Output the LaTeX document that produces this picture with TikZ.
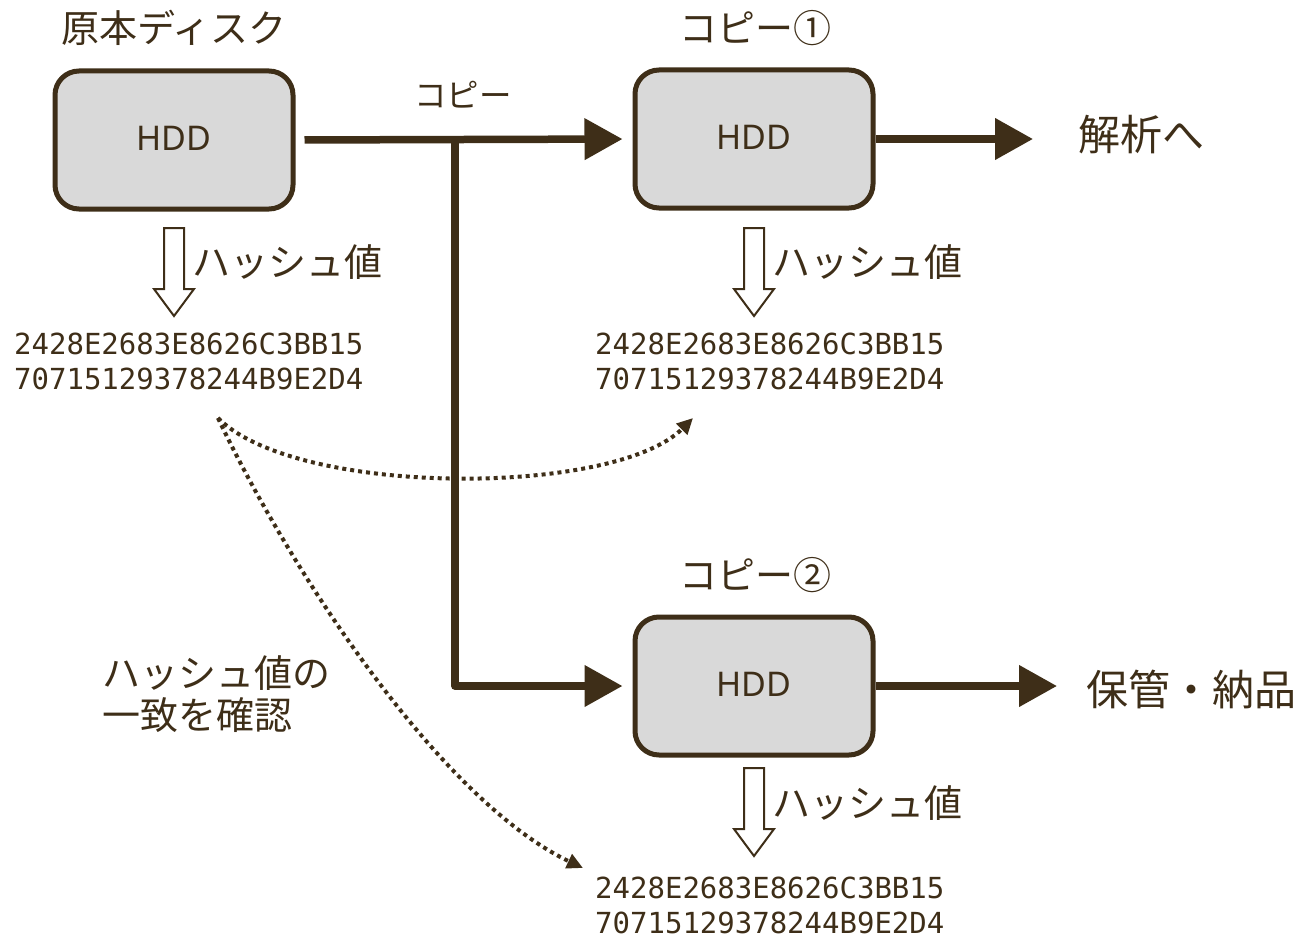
\documentclass[tikz,border=0pt]{standalone}
\usepackage{fontspec}
\setmainfont{Noto Sans CJK JP}
\newfontfamily\hashfont{DejaVu Sans Mono}
\newfontfamily\diskfont{Noto Sans}
\usetikzlibrary{arrows.meta}
\definecolor{ink}{RGB}{62,46,24}
\definecolor{boxfill}{RGB}{217,217,217}

\begin{document}
\begin{tikzpicture}[x=1pt,y=-1pt,
  hdd/.style={draw=ink, line width=5pt, fill=boxfill, rounded corners=24pt,
    minimum width=238pt, minimum height=138pt, text=ink, inner sep=0pt,
    font=\diskfont\fontsize{34}{40}\selectfont},
  jptext/.style={text=ink, inner sep=0pt, font=\fontsize{38}{42}\selectfont},
  bigtext/.style={text=ink, inner sep=0pt, anchor=west, font=\fontsize{42}{46}\selectfont},
  hash/.style={text=ink, inner sep=0pt, align=left, anchor=west,
    font=\hashfont\fontsize{29}{35}\selectfont},
  flow/.style={draw=ink, line width=7.5pt, line join=round,
    -{Triangle[length=38pt,width=40pt]}},
  check/.style={draw=ink, line width=4pt, dash pattern=on 4pt off 4pt,
    -{Triangle[length=16pt,width=15pt]}},
  hashdown/.pic={\draw[ink, line width=2pt, fill=white, line join=miter]
    (-10,0) -- (10,0) -- (10,61) -- (20,61) -- (0,88) -- (-20,61) -- (-10,61) -- cycle;}
]
\useasboundingbox (0,0) rectangle (1305,939);

% disks
\node[hdd] (b0) at (174,140) {\raisebox{4pt}{HDD}};
\node[hdd] (b1) at (754,139) {\raisebox{4pt}{HDD}};
\node[hdd] (b2) at (754,686) {\raisebox{4pt}{HDD}};

% titles
\node[jptext] (t0) at (174,28) {原本ディスク};
\node[jptext] (t1) at (755,28) {コピー①};
\node[jptext] (t2) at (755,575) {コピー②};
\node[jptext, font=\fontsize{32.5}{36}\selectfont] (tc) at (463,95) {コピー};

% destinations
\node[bigtext] (dest1) at (1078,135) {解析へ};
\node[bigtext] (dest2) at (1086,689) {保管・納品};

% hash values
\pic at (174,228) {hashdown};
\pic at (754,228) {hashdown};
\pic at (754,768) {hashdown};
\node[jptext, anchor=west] (hl0) at (192,262) {ハッシュ値};
\node[jptext, anchor=west] (hl1) at (772,262) {ハッシュ値};
\node[jptext, anchor=west] (hl2) at (772,803) {ハッシュ値};

\node[hash] (h0) at (14,361) {2428E2683E8626C3BB15\\70715129378244B9E2D4};
\node[hash] (h1) at (595,361) {2428E2683E8626C3BB15\\70715129378244B9E2D4};
\node[hash] (h2) at (595,905) {2428E2683E8626C3BB15\\70715129378244B9E2D4};

\node[jptext, align=left, anchor=north west]
  (note) at (102,655) {ハッシュ値の\\一致を確認};

% copy flow
\coordinate (split) at (455,140);
\draw[flow, shorten <=9pt, shorten >=10pt] (b0.east) -- (b1.west);
\draw[flow, shorten >=10pt] (split) |- (b2.west);
\draw[flow, shorten >=45pt] (b1.east) -- (b1.east -| dest1.west);
\draw[flow, shorten >=29pt] (b2.east) -- (b2.east -| dest2.west);

% hash comparison
\coordinate (cmpsrc) at (218,418);
\coordinate (cmp1) at (693,418);
\coordinate (cmp2) at (583,868);
\draw[check] (cmpsrc) .. controls (296,497) and (614,497) .. (cmp1);
\draw[check] (cmpsrc) .. controls (290,570) and (440,800) .. (cmp2);
\end{tikzpicture}
\end{document}
